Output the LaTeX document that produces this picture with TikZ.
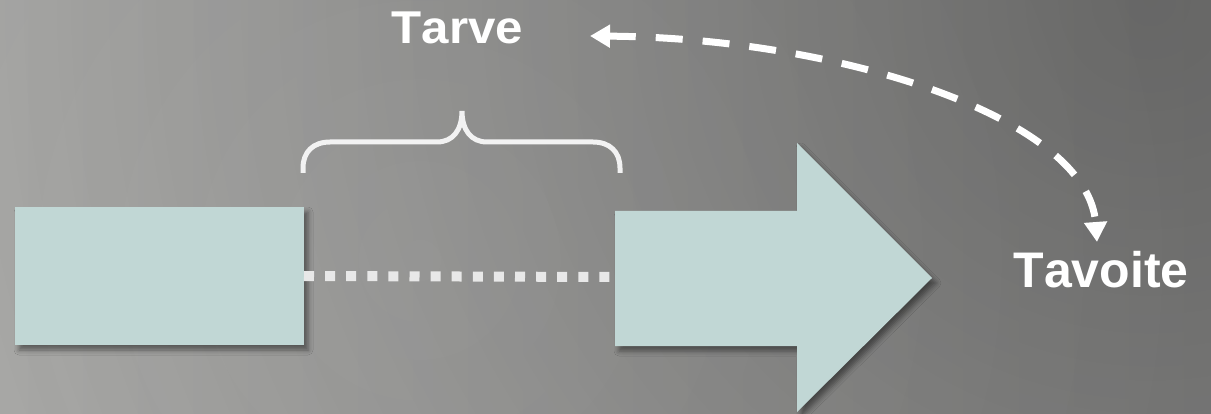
\documentclass[tikz,border=0pt]{standalone}
\usepackage{fontspec}
\setmainfont{Liberation Sans}
\usetikzlibrary{shadows,fadings,arrows.meta}
\IfFileExists{tikzlibraryshadows.blur.code.tex}{%
  \usetikzlibrary{shadows.blur}%
  \tikzset{shade3/.style={blur shadow={shadow xshift=4pt, shadow yshift=-5pt, shadow blur radius=5pt, shadow opacity=45}}}%
}{%
  \tikzset{shade3/.style={drop shadow={shadow xshift=5pt, shadow yshift=-5pt, opacity=0.3, fill=black}}}%
}
\definecolor{boxc}{HTML}{C1D7D5}
\definecolor{bgl}{HTML}{A4A4A2}
\definecolor{bgr}{HTML}{8E8E8D}
\definecolor{dotc}{HTML}{E8E8E8}
\definecolor{bracec}{HTML}{F2F2F2}
\tikzfading[name=fadeout, inner color=transparent!0, outer color=transparent!100]
\tikzset{
  box/.style={fill=boxc, inner sep=0pt, outer sep=0pt, shade3},
  lbl/.style={text=white, inner sep=0pt},
  dotsq/.style={draw=dotc, line width=10pt, dash pattern=on 10pt off 11.1pt},
  bracepath/.style={draw=bracec, line width=5pt},
  dasharc/.style={draw=white, line width=7pt, dash pattern=on 27pt off 20pt,
    {Triangle[width=22pt,length=20pt]}-{Triangle[width=22pt,length=20pt]}}
}
\begin{document}
\begin{tikzpicture}[x=1pt,y=-1pt]
\useasboundingbox (0,0) rectangle (1211,414);
\begin{scope}
  \clip (0,0) rectangle (1211,414);
  \shade[left color=bgl, right color=bgr] (0,0) rectangle (1211,414);
  \fill[black, opacity=0.28, path fading=fadeout, fit fading=true] (1150,0) circle (1200);
  \fill[white, opacity=0.08, path fading=fadeout, fit fading=true] (420,260) circle (800);
\end{scope}
% source box
\node[box, minimum width=289pt, minimum height=138pt] (src) at (159.5,276) {};
% big arrow
\fill[boxc, shade3] (615,211) -- (797,211) -- (797,143) -- (932,278) -- (797,412) -- (797,346) -- (615,346) -- cycle;
\coordinate (tgt) at (615,277);
% dotted connector
\draw[dotsq] (src.east) -- (tgt);
% brace
\draw[bracepath] (303,173) -- (303,168) .. controls (303,152) and (313,142) .. (330,142)
  -- (437,142) .. controls (453,142) and (462,130) .. (462,111)
  .. controls (462,130) and (471,142) .. (487,142)
  -- (593,142) .. controls (610,142) and (620,152) .. (620,168) -- (620,173);
% labels
\node[lbl, anchor=base, xscale=1.07, font=\bfseries\fontsize{46}{56}\selectfont\addfontfeature{Kerning=Off}] (tarve) at (457.5,44) {Tarve};
\node[lbl, anchor=base, font=\bfseries\fontsize{50}{60}\selectfont\addfontfeature{Kerning=Off}] (tavoite) at (1101,288) {Tavoite};
% dashed arc
\coordinate (arcA) at (590,36);
\coordinate (arcB) at (1097,242);
\draw[dasharc] (arcA) .. controls (840,38) and (1088,118) .. (arcB);
\end{tikzpicture}
\end{document}
